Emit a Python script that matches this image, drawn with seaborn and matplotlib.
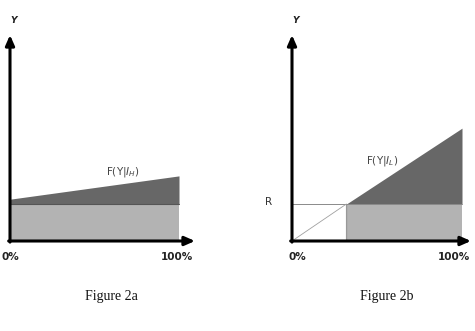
import numpy as np
import pandas as pd
import matplotlib
matplotlib.use("Agg")
import matplotlib.pyplot as plt
import seaborn as sns

# ---- data ----
x_share = [0.0, 1.0]                 # 0% .. 100%
tick_labels = ["0%", "100%"]
base_level_a = [1.0, 1.0]            # light-grey block, Figure 2a
f_high = [1.13, 1.76]                # F(Y|I_H), Figure 2a
R_level = 1.0                        # R, Figure 2b
cutoff = 0.32                        # where F(Y|I_L) reaches R
f_low_x = [0.0, 0.32, 1.0]
f_low = [0.0, 1.0, 3.05]             # F(Y|I_L), Figure 2b
titles = ["Figure 2a", "Figure 2b"]

sns.set_theme(style="white")
plt.rcParams['font.family'] = ['DejaVu Sans']

W, H = 475, 331
fig = plt.figure(figsize=(W / 100, H / 100), dpi=100)

DARK = "#676767"
LIGHT = "#b3b3b3"
PXU = 37.0  # pixels per y unit


def make_ax(x0_px, x1_px, xend_px, y0_px=241, ytop_px=35):
    ppx = x1_px - x0_px
    ax = fig.add_axes([x0_px / W, (H - y0_px) / H,
                       (xend_px - x0_px) / W, (y0_px - ytop_px) / H])
    ax.set_xlim(0, (xend_px - x0_px) / ppx)
    ax.set_ylim(0, (y0_px - ytop_px) / PXU)
    ax.axis("off")
    xm, ym = ax.get_xlim()[1], ax.get_ylim()[1]
    arrow = dict(arrowstyle="-|>,head_length=0.5,head_width=0.22",
                 color="black", lw=2.2, shrinkA=0, shrinkB=0)
    ax.annotate("", xy=(xm, 0), xytext=(-0.008, 0), arrowprops=arrow,
                annotation_clip=False)
    ax.annotate("", xy=(0, ym), xytext=(0, -0.03), arrowprops=arrow,
                annotation_clip=False)
    return ax


# ---------- Figure 2a ----------
axa = make_ax(10, 179, 195)
xa = np.array(x_share)
axa.fill_between(xa, 0, base_level_a, color=LIGHT, lw=0)
axa.fill_between(xa, base_level_a, f_high, color=DARK, lw=0)
sns.lineplot(x=x_share, y=base_level_a, ax=axa, color="#555555", lw=0.8)
axa.text(0.02, 5.95, "Y", fontsize=6.5, fontweight="bold", style="italic",
         ha="center", va="center", color="#222222", clip_on=False)
axa.text(0.0, -0.42, tick_labels[0], fontsize=7.5, fontweight="bold",
         ha="center", va="center", color="#222222", clip_on=False)
axa.text(0.99, -0.42, tick_labels[1], fontsize=7.5, fontweight="bold",
         ha="center", va="center", color="#222222", clip_on=False)
axa.text(0.67, 1.87, "F(Y|$I_H$)", fontsize=7.5, ha="center", va="center",
         color="#444444")
axa.text(0.6, -1.5, titles[0], fontsize=10, family="Liberation Serif",
         ha="center", va="center", color="#111111", clip_on=False)

# ---------- Figure 2b ----------
axb = make_ax(292, 462, 471)
xs = np.linspace(cutoff, 1.0, 50)
fl = np.interp(xs, f_low_x, f_low)
axb.fill_between(xs, 0, R_level, color=LIGHT, lw=0)
axb.fill_between(xs, R_level, fl, color=DARK, lw=0)
sns.lineplot(x=[0, 1.0], y=[R_level, R_level], ax=axb, color="#8a8a8a", lw=0.7)
sns.lineplot(x=f_low_x[:2], y=f_low[:2], ax=axb, color="#a0a0a0", lw=0.6)
sns.lineplot(x=[cutoff, cutoff], y=[0, R_level], ax=axb, color="#333333", lw=0.8)
axb.text(0.02, 5.95, "Y", fontsize=6.5, fontweight="bold", style="italic",
         ha="center", va="center", color="#222222", clip_on=False)
axb.text(-0.14, R_level + 0.05, "R", fontsize=7.5, ha="center", va="center",
         color="#333333", clip_on=False)
axb.text(0.03, -0.42, tick_labels[0], fontsize=7.5, fontweight="bold",
         ha="center", va="center", color="#222222", clip_on=False)
axb.text(1.045, -0.42, tick_labels[1], fontsize=7.5, fontweight="bold",
         ha="right", va="center", color="#222222", clip_on=False)
axb.text(0.53, 2.15, "F(Y|$I_L$)", fontsize=7.5, ha="center", va="center",
         color="#444444")
axb.text(0.56, -1.5, titles[1], fontsize=10, family="Liberation Serif",
         ha="center", va="center", color="#111111", clip_on=False)

fig.savefig("out.png", dpi=100, facecolor="white")
